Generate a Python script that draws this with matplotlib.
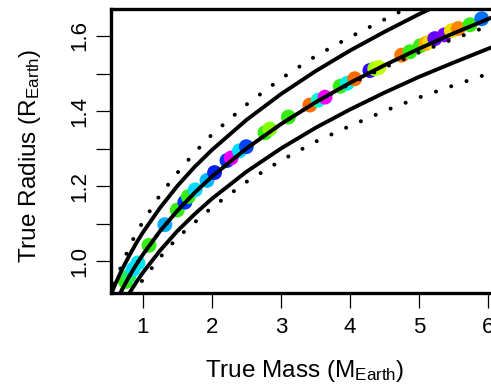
import numpy as np
import matplotlib
matplotlib.use("Agg")
import matplotlib.pyplot as plt

plt.rcParams['font.family'] = ['Liberation Sans', 'DejaVu Sans']
plt.rcParams['mathtext.fontset'] = 'custom'
plt.rcParams['mathtext.rm'] = 'Liberation Sans'
plt.rcParams['mathtext.it'] = 'Liberation Sans:italic'

# mass grid for the model curves (M_Earth)
mass_grid = [0.5, 0.6, 0.7, 0.8, 0.9, 1.0, 1.25, 1.5, 1.75, 2.0, 2.5,
             3.0, 3.5, 4.0, 4.5, 5.0, 5.5, 6.0, 6.5]

# solid curves
r_mid = [0.845, 0.887, 0.924, 0.958, 0.989, 1.017, 1.080, 1.134, 1.182, 1.225, 1.300,
         1.365, 1.423, 1.475, 1.522, 1.566, 1.607, 1.645, 1.681]
r_up = [0.893, 0.938, 0.978, 1.013, 1.046, 1.076, 1.142, 1.200, 1.251, 1.296, 1.376,
        1.445, 1.506, 1.561, 1.611, 1.658, 1.701, 1.742, 1.780]
r_low = [0.805, 0.845, 0.881, 0.913, 0.942, 0.969, 1.028, 1.080, 1.125, 1.166, 1.238,
         1.300, 1.355, 1.404, 1.449, 1.491, 1.529, 1.566, 1.600]

# dotted curves
r_dot_up = [0.900, 0.946, 0.992, 1.035, 1.073, 1.104, 1.176, 1.235, 1.289, 1.337, 1.417,
            1.486, 1.546, 1.597, 1.644, 1.690, 1.730, 1.770, 1.810]
r_dot_mid = [0.845, 0.887, 0.924, 0.958, 0.989, 1.017, 1.080, 1.134, 1.182, 1.225, 1.300,
             1.365, 1.423, 1.472, 1.516, 1.556, 1.592, 1.626, 1.658]
r_dot_low = [0.800, 0.832, 0.863, 0.893, 0.922, 0.950, 1.010, 1.062, 1.103, 1.143, 1.211,
             1.268, 1.318, 1.360, 1.400, 1.436, 1.468, 1.499, 1.528]

# simulated planets
planet_mass = [0.75, 0.80, 0.86, 0.93, 1.09, 1.32, 1.50, 1.61, 1.66, 1.76, 1.93,
               2.04, 2.22, 2.28, 2.40, 2.50, 2.77, 2.84, 3.11, 3.42, 3.54,
               3.64, 3.86, 3.96, 4.07, 4.29, 4.36, 4.42, 4.75, 4.87, 5.02,
               5.10, 5.16, 5.23, 5.37, 5.47, 5.57, 5.74, 5.91]
planet_radius = [0.945, 0.960, 0.978, 0.995, 1.042, 1.097, 1.136, 1.157, 1.172, 1.190, 1.215,
                 1.236, 1.268, 1.275, 1.294, 1.305, 1.342, 1.352, 1.384, 1.416, 1.429,
                 1.437, 1.466, 1.474, 1.486, 1.508, 1.513, 1.516, 1.549, 1.558, 1.574,
                 1.580, 1.585, 1.593, 1.603, 1.614, 1.620, 1.630, 1.646]
planet_color = ['#33ee11', '#22ee55', '#00ddff', '#00e5ee', '#33ee11', '#00b0ff', '#33ee11',
                '#0033ff', '#33ee11', '#00ddff', '#00b8ff', '#0022ee', '#0033ff', '#ee00ff',
                '#00ddff', '#0044ff', '#33ee11', '#88ff00', '#33ee11', '#ff6a00', '#00ffcc',
                '#ee00ff', '#33ee11', '#00eedd', '#ff6a00', '#3300ff', '#99ff00', '#bbff00',
                '#ff7700', '#33ee11', '#33ee11', '#ffaa00', '#eedd00', '#6600ff', '#7a00ff',
                '#eedd00', '#ff8800', '#33ee11', '#0070ff']

fig = plt.figure(figsize=(4.91, 3.84), dpi=100)
ax = fig.add_axes([0.2261, 0.237, 0.7902, 0.7396])

ax.scatter(planet_mass, planet_radius, s=115, c=planet_color, edgecolors='none', zorder=2)

for r in (r_up, r_mid, r_low):
    ax.plot(mass_grid, r, color='black', lw=2.8, solid_capstyle='butt', zorder=3)
for r in (r_dot_up, r_dot_mid, r_dot_low):
    ax.plot(mass_grid, r, color='black', lw=2.9, linestyle=(0, (0.01, 4.0)),
            dash_capstyle='round', zorder=3)

ax.set_xlim(0.54, 6.16)
ax.set_ylim(0.915, 1.672)
ax.set_xticks([1, 2, 3, 4, 5, 6])
ax.set_yticks([1.0, 1.2, 1.4, 1.6])
ax.set_yticklabels(['1.0', '1.2', '1.4', '1.6'], rotation=90, va='center')
ax.set_yticks([1.1, 1.3, 1.5], minor=True)

for s in ax.spines.values():
    s.set_linewidth(2.4)
ax.tick_params(which='both', direction='out', length=11, width=0.9, labelsize=16)
ax.tick_params(axis='x', pad=6)
ax.tick_params(axis='y', pad=4)

fig.text(0.6212, 0.033, r'True Mass (M$_{\rm Earth}$)', ha='center', va='center', fontsize=17.5)
fig.text(0.062, 0.595, r'True Radius (R$_{\rm Earth}$)', ha='center', va='center',
         fontsize=17.5, rotation=90)

fig.savefig('out.png', dpi=100)
